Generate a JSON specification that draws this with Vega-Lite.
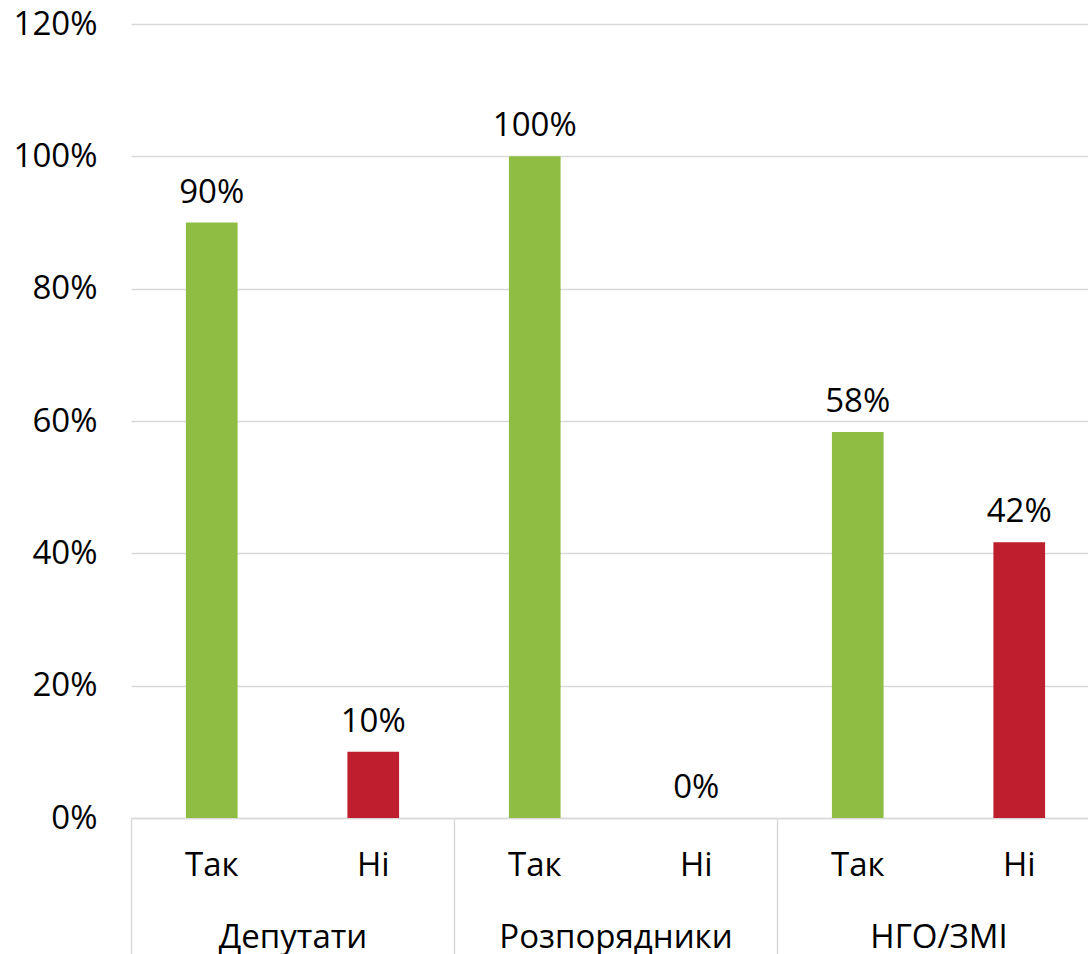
{
  "$schema": "https://vega.github.io/schema/vega-lite/v6.json",
  "autosize": {"type": "none"},
  "padding": {"left": 131, "top": 24, "right": 0, "bottom": 136},
  "width": 969,
  "height": 794,
  "background": "white",
  "config": {
    "view": {"stroke": null},
    "font": "Open Sans",
    "axis": {"labelFont": "Open Sans", "labelColor": "#000000", "labelFontSize": 33, "labelLimit": 0, "title": null}
  },
  "datasets": {
    "bars": [
      {"group": "Депутати", "answer": "Так", "cat": "Депутати|Так", "value": 0.9},
      {"group": "Депутати", "answer": "Ні", "cat": "Депутати|Ні", "value": 0.1},
      {"group": "Розпорядники", "answer": "Так", "cat": "Розпорядники|Так", "value": 1.0},
      {"group": "Розпорядники", "answer": "Ні", "cat": "Розпорядники|Ні", "value": 0.0},
      {"group": "НГО/ЗМІ", "answer": "Так", "cat": "НГО/ЗМІ|Так", "value": 0.5833},
      {"group": "НГО/ЗМІ", "answer": "Ні", "cat": "НГО/ЗМІ|Ні", "value": 0.4167}
    ],
    "groups": [
      {"group": "Депутати"},
      {"group": "Розпорядники"},
      {"group": "НГО/ЗМІ"}
    ]
  },
  "layer": [
    {
      "data": {"name": "bars"},
      "encoding": {
        "x": {
          "field": "cat",
          "type": "nominal",
          "sort": null,
          "scale": {"paddingInner": 0, "paddingOuter": 0},
          "axis": {
            "labelExpr": "split(datum.label, '|')[1]",
            "labelAngle": 0,
            "ticks": false,
            "domain": true,
            "domainColor": "#d9d9d9",
            "domainWidth": 1.5,
            "labelPadding": 47,
            "labelBaseline": "middle",
            "grid": false
          }
        },
        "y": {
          "field": "value",
          "type": "quantitative",
          "scale": {"domain": [0, 1.2], "nice": false},
          "axis": {
            "format": ".0%",
            "values": [0, 0.2, 0.4, 0.6, 0.8, 1.0, 1.2],
            "domain": false,
            "ticks": false,
            "grid": true,
            "gridColor": "#d9d9d9",
            "gridWidth": 1.5,
            "labelPadding": 34
          }
        }
      },
      "layer": [
        {
          "mark": {"type": "bar", "width": {"band": 0.32}},
          "encoding": {
            "color": {
              "field": "answer",
              "type": "nominal",
              "scale": {"domain": ["Так", "Ні"], "range": ["#8FBD44", "#BE1E2D"]},
              "legend": null
            }
          }
        },
        {
          "mark": {"type": "text", "baseline": "alphabetic", "dy": -20, "fontSize": 33, "color": "#000000"},
          "encoding": {
            "text": {"field": "value", "type": "quantitative", "format": ".0%"}
          }
        }
      ]
    },
    {
      "data": {"name": "groups"},
      "mark": {"type": "text", "text": "", "opacity": 0},
      "encoding": {
        "x": {
          "field": "group",
          "type": "nominal",
          "sort": null,
          "scale": {"paddingInner": 0, "paddingOuter": 0},
          "axis": {
            "orient": "bottom",
            "labelAngle": 0,
            "domain": false,
            "ticks": true,
            "tickBand": "extent",
            "tickSize": 136,
            "tickColor": "#d9d9d9",
            "tickWidth": 1.5,
            "labelPadding": -17,
            "labelBaseline": "middle",
            "grid": false
          }
        }
      }
    }
  ],
  "resolve": {"scale": {"x": "independent"}, "axis": {"x": "independent"}}
}
